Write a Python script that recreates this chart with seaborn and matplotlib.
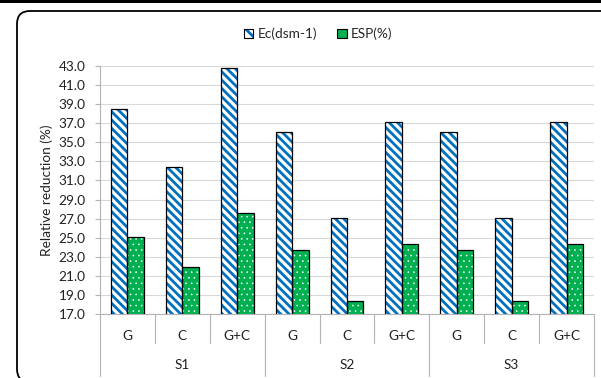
import numpy as np
import pandas as pd
import matplotlib
matplotlib.use("Agg")
import matplotlib.pyplot as plt
import seaborn as sns
from matplotlib.patches import Rectangle, FancyBboxPatch, Patch
from matplotlib.legend_handler import HandlerTuple
from matplotlib.transforms import IdentityTransform

# Data
soils = ["S1", "S2", "S3"]
treatments = ["G", "C", "G+C"]
series_names = ["Ec(dsm-1)", "ESP(%)"]
ec_values = [38.5, 32.4, 42.8, 36.1, 27.1, 37.1, 36.1, 27.1, 37.1]
esp_values = [25.1, 21.9, 27.6, 23.7, 18.4, 24.3, 23.7, 18.4, 24.3]
y_ticks = np.arange(17, 44, 2)

slots = [f"{s}|{t}" for s in soils for t in treatments]
df = pd.DataFrame({
    "slot": slots * 2,
    "series": [series_names[0]] * len(slots) + [series_names[1]] * len(slots),
    "value": ec_values + esp_values,
})

BLUE = "#0070C0"
GREEN = "#00B050"
GRID = "#d9d9d9"
AXIS = "#b3b3b3"
TXT = "#222222"
EC_HATCH = "\\\\\\\\"
ESP_HATCH = "..."

sns.set_theme(style="white")
plt.rcParams["font.family"] = ["Lato", "DejaVu Sans"]
plt.rcParams["hatch.linewidth"] = 2.0
FS = 9.8

W, H = 601, 378
fig = plt.figure(figsize=(W / 100, H / 100), dpi=100)
ax = fig.add_axes([100 / W, 1 - 314 / H, 494 / W, 248 / H])

sns.barplot(data=df, x="slot", y="value", hue="series", order=slots,
            hue_order=series_names, palette=["white", GREEN], saturation=1,
            width=0.6, gap=0, errorbar=None, legend=False, ax=ax)


def thin_hatch(patch, lw):
    if hasattr(patch, "set_hatch_linewidth"):
        patch.set_hatch_linewidth(lw)


# Pattern fills plus a black outline on top of every bar
styles = [("white", BLUE, EC_HATCH, 2.0), (GREEN, "white", ESP_HATCH, 0.4)]
for container, (fc, hc, hatch, hlw) in zip(ax.containers, styles):
    for bar in container:
        bar.set_facecolor(fc)
        bar.set_edgecolor(hc)
        bar.set_hatch(hatch)
        bar.set_linewidth(0)
        thin_hatch(bar, hlw)
        x0, y0 = bar.get_xy()
        ax.add_patch(Rectangle((x0, y0), bar.get_width(), bar.get_height(),
                               fill=False, edgecolor="black", lw=0.9, zorder=3))

ax.set_ylim(17, 43)
ax.set_xlim(-0.5, len(slots) - 0.5)
ax.set_yticks(y_ticks)
ax.set_yticklabels([f"{v:.1f}" for v in y_ticks], fontsize=FS, color=TXT)
ax.yaxis.grid(True, color=GRID, lw=0.8)
ax.set_axisbelow(True)
ax.tick_params(axis="y", which="major", left=True, length=3.3, width=0.8,
               color=AXIS, pad=7)
ax.set_xticks([])
ax.set_xlabel("")
ax.set_ylabel("Relative reduction (%)", fontsize=FS, color=TXT)
ax.yaxis.set_label_coords(-0.095, 0.5)

for side in ["top", "right"]:
    ax.spines[side].set_visible(False)
for side in ["left", "bottom"]:
    ax.spines[side].set_color(AXIS)
    ax.spines[side].set_linewidth(0.8)

# Two-level category axis
xt = ax.get_xaxis_transform()
for i in range(len(slots) + 1):
    depth = -0.25 if i % 3 == 0 else -0.117
    ax.plot([i - 0.5, i - 0.5], [0, depth], transform=xt, color=AXIS,
            lw=0.8, clip_on=False)
for i, t in enumerate(treatments * len(soils)):
    ax.text(i, -0.089, t, transform=xt, ha="center", va="center",
            fontsize=FS, color=TXT)
for j, s in enumerate(soils):
    ax.text(3 * j + 1, -0.206, s, transform=xt, ha="center", va="center",
            fontsize=FS, color=TXT)

# Legend
ec_key = Patch(facecolor="white", edgecolor=BLUE, hatch="\\\\", lw=0)
esp_key = Patch(facecolor=GREEN, edgecolor="white", hatch=".", lw=0)
thin_hatch(esp_key, 0.5)
handles = [
    (ec_key, Patch(facecolor="none", edgecolor="black", lw=0.8)),
    (esp_key, Patch(facecolor="none", edgecolor="black", lw=0.8)),
]
fig.legend(handles=handles, labels=series_names,
           handler_map={tuple: HandlerTuple(ndivide=1, pad=0)},
           loc="center", bbox_to_anchor=(318 / W, 1 - 34 / H), ncol=2,
           frameon=False, handlelength=0.7, handleheight=0.7,
           handletextpad=0.3, columnspacing=1.5, fontsize=FS)

# Rounded chart frame and top rule
fig.add_artist(FancyBboxPatch((17, -4), 640, 371,
                              boxstyle="round,pad=0,rounding_size=13",
                              transform=IdentityTransform(), fill=False,
                              edgecolor="black", lw=1.3))
fig.add_artist(Rectangle((0, 375), W, 3, transform=IdentityTransform(),
                         facecolor="black", edgecolor="none"))

fig.savefig("out.png", dpi=100)
